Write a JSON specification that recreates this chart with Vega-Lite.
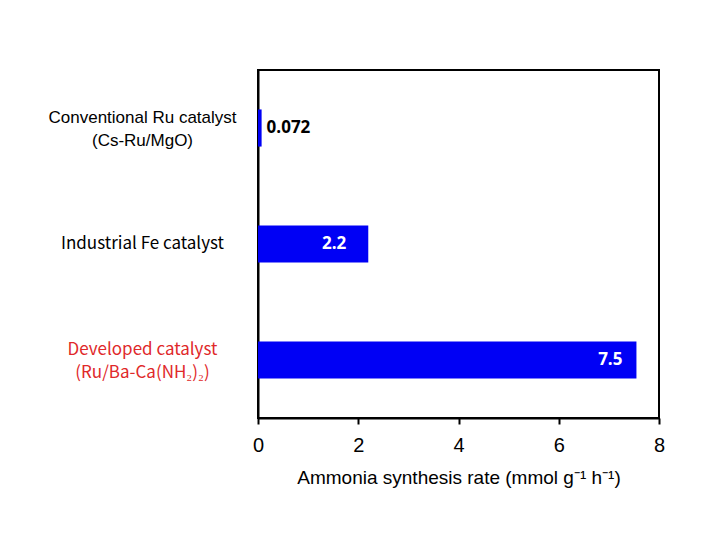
{
  "$schema": "https://vega.github.io/schema/vega-lite/v6.json",
  "autosize": {"type": "none"},
  "padding": {"left": 258, "top": 70, "right": 61, "bottom": 122},
  "width": 401,
  "height": 348,
  "background": "white",
  "config": {
    "view": {"stroke": "black", "strokeWidth": 2},
    "axis": {"grid": false, "domainColor": "black", "domainWidth": 2, "tickColor": "black", "tickWidth": 2}
  },
  "data": {
    "values": [
      {"catalyst": "Conventional Ru catalyst|(Cs-Ru/MgO)", "rate": 0.072, "label": "0.072"},
      {"catalyst": "Industrial Fe catalyst", "rate": 2.2, "label": "2.2"},
      {"catalyst": "Developed catalyst|(Ru/Ba-Ca(NH₂)₂)", "rate": 7.55, "label": "7.5"}
    ]
  },
  "encoding": {
    "y": {
      "field": "catalyst",
      "type": "nominal",
      "sort": null,
      "title": null,
      "scale": {"paddingInner": 0.68, "paddingOuter": 0.34},
      "axis": {
        "ticks": false,
        "labelAlign": "center",
        "labelBaseline": "middle",
        "labelPadding": 116,
        "labelLimit": 300,
        "labelFontSize": 17,
        "labelLineHeight": 23,
        "labelExpr": "split(datum.label, '|')",
        "labelOffset": {"condition": {"test": "indexof(datum.value, '|') >= 0", "value": -10}, "value": 0},
        "labelFont": {"condition": {"test": "indexof(datum.value, 'Conventional') >= 0", "value": "Liberation Sans"}, "value": "Noto Sans CJK JP"},
        "labelColor": {"condition": {"test": "indexof(datum.value, 'Developed') >= 0", "value": "#e0282a"}, "value": "black"}
      }
    },
    "x": {
      "field": "rate",
      "type": "quantitative",
      "title": "Ammonia  synthesis rate (mmol g⁻¹ h⁻¹)",
      "scale": {"domain": [0, 8], "nice": false},
      "axis": {
        "values": [0, 2, 4, 6, 8],
        "tickSize": 6,
        "labelPadding": 11,
        "labelFont": "Liberation Sans",
        "labelFontSize": 20,
        "labelColor": "black",
        "labelFlush": false,
        "titleFont": "Liberation Sans",
        "titleFontSize": 19,
        "titleFontWeight": "normal",
        "titleColor": "black",
        "titlePadding": 13
      }
    }
  },
  "layer": [
    {"mark": {"type": "bar", "color": "#0000f5"}},
    {
      "transform": [{"filter": "datum.rate < 1"}],
      "mark": {"type": "text", "align": "left", "dx": 5, "font": "Open Sans", "fontWeight": "bold", "fontSize": 17, "color": "black"},
      "encoding": {"text": {"field": "label"}}
    },
    {
      "transform": [{"filter": "datum.rate >= 1 && datum.rate < 5"}],
      "mark": {"type": "text", "align": "right", "dx": -22, "font": "Open Sans", "fontWeight": "bold", "fontSize": 17, "color": "white"},
      "encoding": {"text": {"field": "label"}}
    },
    {
      "transform": [{"filter": "datum.rate >= 5"}],
      "mark": {"type": "text", "align": "right", "dx": -14, "font": "Open Sans", "fontWeight": "bold", "fontSize": 17, "color": "white"},
      "encoding": {"text": {"field": "label"}}
    }
  ]
}
